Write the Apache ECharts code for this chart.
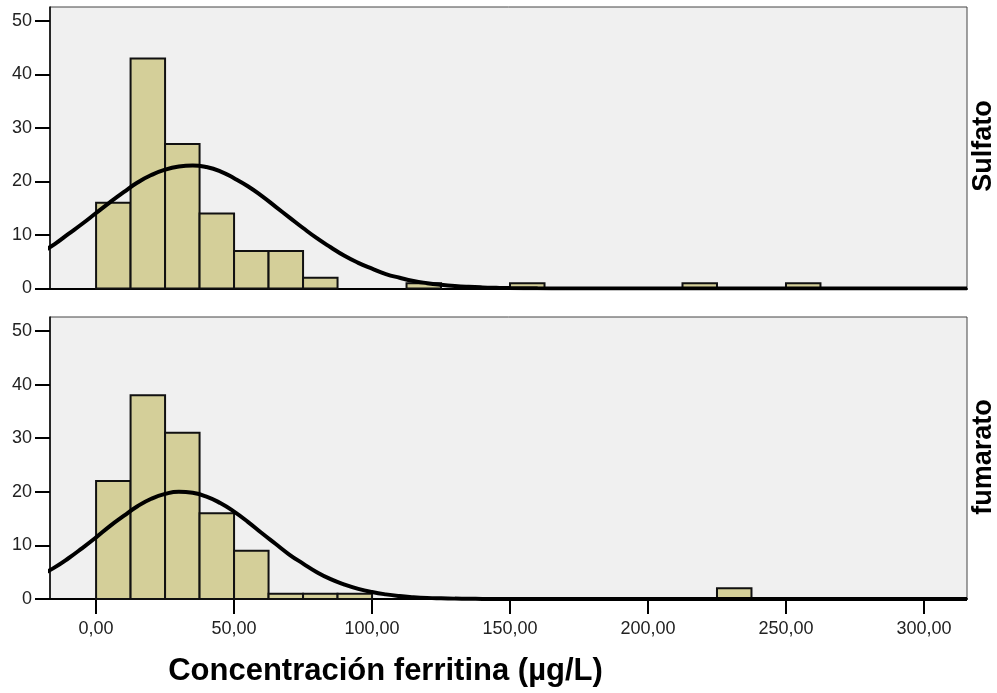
<!DOCTYPE html>
<html>
<head>
<meta charset="utf-8">
<script src="https://cdn.jsdelivr.net/npm/echarts@6/dist/echarts.min.js"></script>
<style>html,body{margin:0;padding:0;background:#fff;}#c{width:997px;height:693px;}</style>
</head>
<body>
<div id="c"></div>
<script>
// ---- data ----
const binWidth = 12.5;
const binStarts = [0,12.5,25,37.5,50,62.5,75,87.5,100,112.5,125,137.5,150,162.5,175,187.5,200,212.5,225,237.5,250];
const countsSulfato  = [16,43,27,14,7,7,2,0,0,1,0,0,1,0,0,0,0,1,0,0,1];
const countsFumarato = [22,38,31,16,9,1,1,1,0,0,0,0,0,0,0,0,0,0,2,0,0];
const curveX = [-20,-15,-10,-5,0,5,10,15,20,25,30,35,40,45,50,55,60,65,70,75,80,85,90,95,100,105,110,115,120,125,130,135,140,145,150,160,170,180,200,220,240,260,280,300,315.6];
const curveSulfato  = [6.7,8.3,10.2,12.1,14.1,16.1,18.0,19.8,21.2,22.2,22.8,23.0,22.7,21.9,20.6,19.1,17.3,15.3,13.3,11.3,9.4,7.7,6.1,4.8,3.7,2.7,2.0,1.4,1.0,0.7,0.47,0.31,0.2,0.13,0.08,0.03,0.01,0,0,0,0,0,0,0,0];
const curveFumarato = [4.5,5.9,7.6,9.5,11.5,13.6,15.5,17.3,18.7,19.6,20.0,19.8,19.1,17.9,16.3,14.4,12.3,10.3,8.3,6.6,5.0,3.7,2.7,1.9,1.3,0.86,0.55,0.35,0.21,0.13,0.07,0.04,0.02,0.01,0,0,0,0,0,0,0,0,0,0,0];
const xTicks = [0,50,100,150,200,250,300];
const yTicks = [0,10,20,30,40,50];
const panelNames = ['Sulfato','fumarato'];
const xTitle = 'Concentración ferritina (µg/L)';

// ---- chart ----
const chart = echarts.init(document.getElementById('c'), null, {renderer:'canvas'});
const barFill = '#d4cf99';
const labelFont = 'Liberation Sans, Arial, sans-serif';

function barData(counts){
  const out = [];
  counts.forEach((c,i)=>{ if(c>0) out.push([binStarts[i], binStarts[i]+binWidth, c]); });
  return out;
}
function renderBar(params, api){
  const p0 = api.coord([api.value(0), api.value(2)]);
  const p1 = api.coord([api.value(1), 0]);
  return {type:'rect', shape:{x:p0[0], y:p0[1], width:p1[0]-p0[0], height:p1[1]-p0[1]},
    style:{fill:barFill, stroke:'#111', lineWidth:2}};
}
function xAxisCfg(idx, showLabels){
  return {
    type:'value', gridIndex:idx, min:-16.7, max:315.6,
    axisLine:{show:true, onZero:false, lineStyle:{color:'#000', width:2}},
    axisTick:{show:showLabels, length:15, lineStyle:{color:'#000', width:2}, customValues:xTicks},
    axisLabel:{show:showLabels, customValues:xTicks, margin:21, color:'#222', fontSize:18, fontFamily:labelFont,
      formatter:(v)=>v.toFixed(2).replace('.', ',')},
    splitLine:{show:false}
  };
}
function yAxisCfg(idx){
  return {
    type:'value', gridIndex:idx, min:0, max:52.6,
    axisLine:{show:true, onZero:false, lineStyle:{color:'#000', width:1.5}},
    axisTick:{show:true, length:15, lineStyle:{color:'#000', width:2}, customValues:yTicks},
    axisLabel:{customValues:yTicks, margin:18, color:'#222', fontSize:18, fontFamily:labelFont},
    splitLine:{show:false}
  };
}
function pairs(xs, ys){ return xs.map((x,i)=>[x, ys[i]]); }

chart.setOption({
  animation:false,
  backgroundColor:'#fff',
  grid:[
    {left:50, right:30, top:7, height:281.5, show:true, backgroundColor:'#f0f0f0', borderColor:'#444', borderWidth:1},
    {left:50, right:30, top:317, height:282, show:true, backgroundColor:'#f0f0f0', borderColor:'#444', borderWidth:1}
  ],
  xAxis:[xAxisCfg(0,false), xAxisCfg(1,true)],
  yAxis:[yAxisCfg(0), yAxisCfg(1)],
  series:[
    {type:'custom', xAxisIndex:0, yAxisIndex:0, renderItem:renderBar, data:barData(countsSulfato), encode:{x:[0,1], y:2}, z:2},
    {type:'custom', xAxisIndex:1, yAxisIndex:1, renderItem:renderBar, data:barData(countsFumarato), encode:{x:[0,1], y:2}, z:2},
    {type:'line', xAxisIndex:0, yAxisIndex:0, data:pairs(curveX, curveSulfato), smooth:true, showSymbol:false, clip:true,
      lineStyle:{color:'#000', width:4}, z:5},
    {type:'line', xAxisIndex:1, yAxisIndex:1, data:pairs(curveX, curveFumarato), smooth:true, showSymbol:false, clip:true,
      lineStyle:{color:'#000', width:4}, z:5}
  ],
  graphic:[
    {type:'text', x:385.5, y:671, style:{text:xTitle, font:'bold 31px ' + labelFont, fill:'#000', textAlign:'center', textVerticalAlign:'middle'}},
    {type:'text', x:984, y:146, rotation:Math.PI/2, style:{text:panelNames[0], font:'bold 27px ' + labelFont, fill:'#000', textAlign:'center', textVerticalAlign:'middle'}},
    {type:'text', x:984, y:457, rotation:Math.PI/2, style:{text:panelNames[1], font:'bold 27px ' + labelFont, fill:'#000', textAlign:'center', textVerticalAlign:'middle'}}
  ]
});
</script>
</body>
</html>
